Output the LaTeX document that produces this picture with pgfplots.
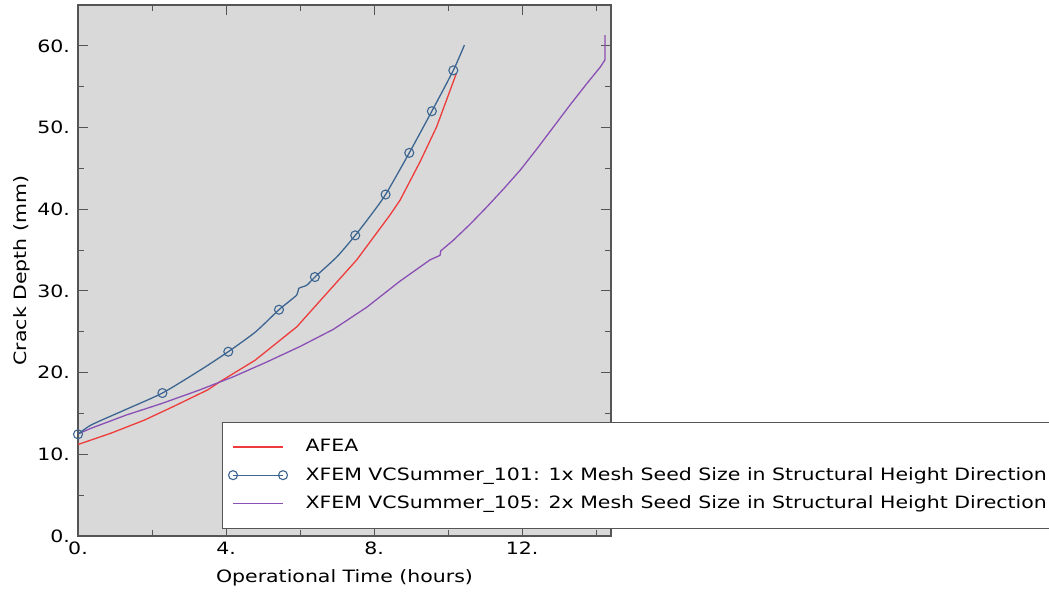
\documentclass[border=0pt]{standalone}
\usepackage{pgfplots}
\pgfplotsset{compat=1.18}
\usepackage{fontspec}
\setmainfont[FakeStretch=1.205]{DejaVu Sans}
\definecolor{bg}{HTML}{D9D9D9}
\definecolor{afea}{HTML}{EE3B3B}
\definecolor{xa}{HTML}{3C6591}
\definecolor{xb}{HTML}{8B50B5}
\definecolor{axc}{HTML}{555555}
\begin{document}
\fontsize{17}{20}\selectfont
\begin{tikzpicture}[x=1pt,y=1pt]
\useasboundingbox (-78,-58) rectangle (971,536);
\begin{axis}[
  at={(0,0)}, anchor=south west,
  scale only axis, width=533pt, height=531pt,
  xmin=0, xmax=14.4, ymin=0, ymax=65,
  axis background/.style={fill=bg},
  axis line style={draw=axc, line width=1.2pt},
  tick style={draw=axc, line width=1pt},
  major tick length=10pt, minor tick length=6pt,
  tick align=inside,
  xtick={0,4,8,12}, minor xtick={2,6,10,14},
  xticklabels={0.,4.,8.,12.},
  ytick={0,10,20,30,40,50,60}, minor ytick={5,15,25,35,45,55,65},
  yticklabels={0.,10.,20.,30.,40.,50.,60.},
  yticklabel style={xshift=-2.3pt},
  xlabel={Operational Time (hours)},
  xlabel style={at={(axis description cs:0.5,0)}, anchor=center, yshift=-42pt},
  ylabel={Crack Depth (mm)},
  ylabel style={at={(axis description cs:-0.1051,0.5)}, anchor=center},
  legend cell align=left,
  legend image code/.code={\draw[#1,mark repeat=1] plot coordinates {(0pt,0pt) (50pt,0pt)};},
  legend style={at={(axis description cs:0.2702,0.2147)}, anchor=north west,
    draw=axc, line width=1pt, fill=white, font=\fontsize{17}{20}\selectfont,
    row sep=9pt, inner xsep=6pt, inner ysep=15pt,
    /tikz/every odd column/.append style={column sep=16pt}},
]
\addplot[afea, line width=1.3pt, forget plot] coordinates {
(0,11.2) (0.9,12.6) (1.8,14.2) (2.6,15.9) (3.51,17.9) (3.84,18.9) (4.78,21.5)
(5.91,25.6) (6.72,29.7) (7.53,33.8) (8.43,39.3) (8.70,41.1) (9.24,45.8) (9.69,50.1) (10.22,56.6)
};
\addplot[xb, line width=1.3pt, forget plot] coordinates {
(0,12.5) (0.36,13.2) (1.3,14.8) (2.25,16.2) (3.3,17.9) (4.2,19.5) (5.1,21.3)
(6.0,23.2) (6.9,25.3) (7.8,28.0) (8.7,31.2) (9.2,32.8) (9.51,33.8) (9.78,34.35) (9.80,34.9) (10.14,36.2)
(10.6,38.2) (11.05,40.3) (11.5,42.5) (11.95,44.8) (12.4,47.4) (12.85,50.1) (13.3,52.8) (13.75,55.4) (14.11,57.4)
(14.24,58.3) (14.24,61.3)
};
\addplot[xa, line width=1.3pt, smooth, tension=0.4, mark=o, mark size=4.5pt,
  mark options={line width=1.1pt, fill=none},
  mark indices={1,4,6,8,12,14,16,17,18,19}, forget plot] coordinates {
(0,12.45) (0.36,13.6) (1.3,15.5) (2.28,17.5) (3.3,20.3) (4.06,22.56) (4.8,25.0)
(5.43,27.7) (5.91,29.5) (5.96,30.3) (6.18,30.7) (6.4,31.7) (7.0,34.2) (7.49,36.8)
(7.9,39.2) (8.31,41.8) (8.95,46.9) (9.56,52.0) (10.14,57.0) (10.44,60.1)
};
\addlegendimage{afea, line width=1.3pt}
\addlegendentry{AFEA}
\addlegendimage{xa, line width=1.3pt, mark=o, mark size=4.5pt, mark options={line width=1.1pt}}
\addlegendentry{XFEM VCSummer\_101: 1x Mesh Seed Size in Structural Height Direction}
\addlegendimage{xb, line width=1.3pt}
\addlegendentry{XFEM VCSummer\_105: 2x Mesh Seed Size in Structural Height Direction}
\node[anchor=base west, inner sep=0pt] at ([xshift=6pt,yshift=-22pt]rel axis cs:1,0) {[x1.E3]};
\end{axis}
\end{tikzpicture}
\end{document}
